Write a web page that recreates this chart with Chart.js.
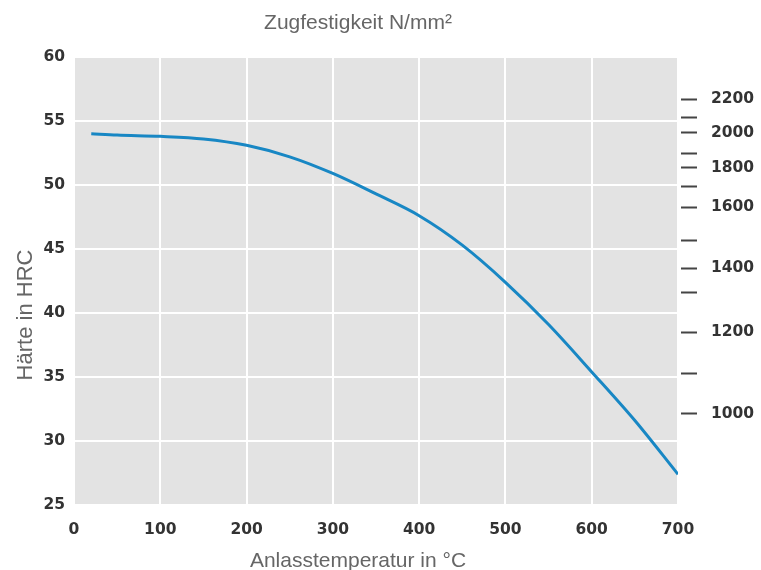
<!DOCTYPE html>
<html>
<head>
<meta charset="utf-8">
<script src="https://cdn.jsdelivr.net/npm/chart.js@4"></script>
<style>
  html, body { margin: 0; padding: 0; background: #fff; }
  #wrap { width: 761px; height: 570px; }
</style>
</head>
<body>
<div id="wrap"><canvas id="chart" width="761" height="570"></canvas></div>
<script>
// Anlasstemperatur (°C) und Härte (HRC)
const temperatures = [20, 50, 100, 150, 200, 250, 300, 350, 400, 450, 500, 550, 600, 650, 700];
const hardness = [54.0, 53.9, 53.8, 53.6, 53.1, 52.2, 50.9, 49.3, 47.6, 45.3, 42.4, 39.1, 35.4, 31.6, 27.4];

// Zugfestigkeit (N/mm²) und ihre Lage auf der HRC-Skala
const strengthValues = [2200, 2100, 2000, 1900, 1800, 1700, 1600, 1500, 1400, 1300, 1200, 1100, 1000];
const strengthHrc = [56.7, 55.25, 54.1, 52.5, 51.35, 49.85, 48.25, 45.65, 43.5, 41.6, 38.5, 35.3, 32.15];
const strengthLabels = ['2200', '', '2000', '', '1800', '', '1600', '', '1400', '', '1200', '', '1000'];

const titleTop = 'Zugfestigkeit N/mm²';
const titleX = 'Anlasstemperatur in °C';
const titleY = 'Härte in HRC';

const tickFont = { family: 'DejaVu Sans', size: 15.5, weight: 'bold' };

const plotBg = {
    id: 'plotBg',
    beforeDraw(chart) {
        const { ctx, chartArea: a } = chart;
        ctx.save();
        ctx.fillStyle = '#e3e3e3';
        ctx.fillRect(a.left, a.top, a.right - a.left, a.bottom - a.top);
        ctx.restore();
    }
};

// axis titles, placed a bit off-centre like in the original
const axisTitles = {
    id: 'axisTitles',
    afterDraw(chart) {
        const { ctx, chartArea: a } = chart;
        const mid = (a.left + a.right) / 2 - 18;
        ctx.save();
        ctx.fillStyle = '#666';
        ctx.textAlign = 'center';
        ctx.textBaseline = 'alphabetic';
        ctx.font = '21px "Liberation Sans"';
        ctx.fillText(titleTop, mid, 28.5);
        ctx.fillText(titleX, mid, 567);
        ctx.translate(31.5, (a.top + a.bottom) / 2 + 34);
        ctx.rotate(-Math.PI / 2);
        ctx.font = '22px "Liberation Sans"';
        ctx.fillText(titleY, 0, 0);
        ctx.restore();
    }
};

new Chart(document.getElementById('chart'), {
    type: 'line',
    data: {
        datasets: [{
            data: temperatures.map((t, i) => ({ x: t, y: hardness[i] })),
            borderColor: '#1887c4',
            borderWidth: 3,
            pointRadius: 0,
            cubicInterpolationMode: 'monotone',
            fill: false
        }]
    },
    options: {
        responsive: false,
        animation: false,
        layout: { padding: { top: 57, left: 0, right: 0, bottom: 0 } },
        plugins: {
            legend: { display: false },
            tooltip: { enabled: false },
            title: { display: false }
        },
        scales: {
            x: {
                type: 'linear',
                min: 0,
                max: 700,
                afterBuildTicks: axis => {
                    axis.ticks = [0, 100, 200, 300, 400, 500, 600, 700].map(v => ({ value: v }));
                },
                grid: { color: '#ffffff', lineWidth: 2, drawTicks: false },
                border: { display: false },
                ticks: { color: '#333', font: tickFont, padding: 16, maxRotation: 0 },
                afterFit: s => { s.height = 65; }
            },
            y: {
                min: 25,
                max: 60,
                position: 'left',
                ticks: { stepSize: 5, color: '#333', font: tickFont, padding: 9 },
                grid: { color: '#ffffff', lineWidth: 2, drawTicks: false },
                border: { display: false },
                afterFit: s => { s.width = 74; }
            },
            y2: {
                min: 25,
                max: 60,
                position: 'right',
                afterBuildTicks: axis => {
                    axis.ticks = strengthHrc.map(v => ({ value: v }));
                },
                ticks: {
                    color: '#333',
                    font: tickFont,
                    padding: 14,
                    autoSkip: false,
                    callback: (value, index) => strengthLabels[index]
                },
                grid: {
                    drawOnChartArea: false,
                    drawTicks: true,
                    tickLength: 19,
                    tickColor: '#444',
                    tickWidth: 2,
                    tickBorderDash: [0, 3, 16, 10]
                },
                border: { display: false },
                afterFit: s => { s.width = 83; }
            }
        }
    },
    plugins: [plotBg, axisTitles]
});
</script>
</body>
</html>
